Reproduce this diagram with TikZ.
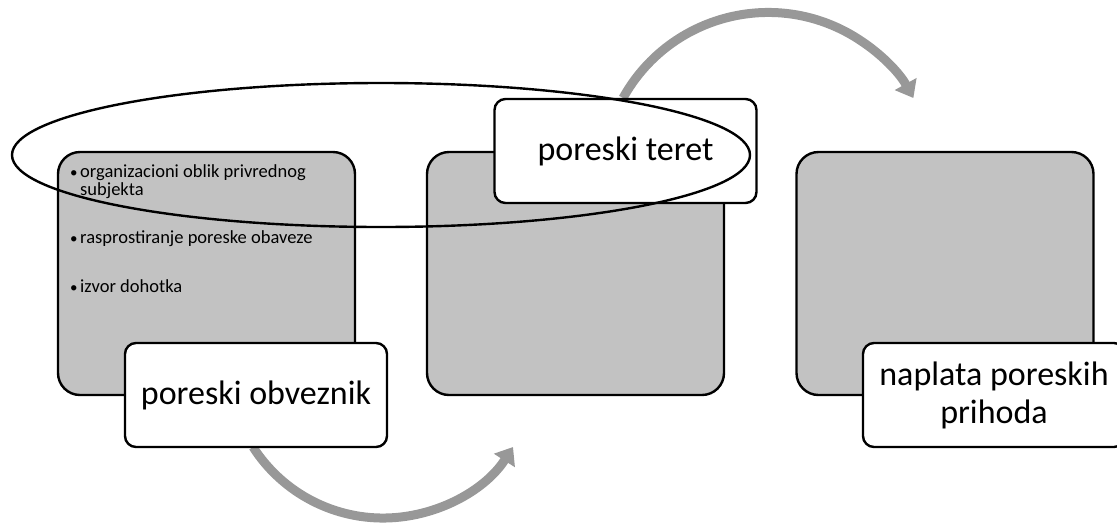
\documentclass[tikz,border=0pt]{standalone}
\usepackage{fontspec}
\setmainfont{Carlito}
\usetikzlibrary{arrows.meta}
\definecolor{boxgrey}{HTML}{C2C2C2}
\definecolor{arrowgrey}{HTML}{989898}
\tikzset{
  greybox/.style={draw=black, line width=2.4pt, fill=boxgrey, rounded corners=22pt,
    minimum width=297pt, minimum height=243pt, inner sep=0pt},
  labelbox/.style={draw=black, line width=2.4pt, fill=white, rounded corners=11pt,
    minimum width=262pt, minimum height=104pt, inner sep=0pt, align=center,
    font=\fontsize{34}{38}\selectfont},
  bullettext/.style={anchor=base west, inner sep=0pt,
    font=\fontsize{18.5}{18}\selectfont},
  bigarrow/.style={draw=arrowgrey, line width=9pt,
    -{Triangle[width=24pt,length=16pt]}},
}
\newcommand{\mybul}{\makebox[10pt][l]{\fontsize{15}{15}\selectfont•}}
\begin{document}
\begin{tikzpicture}[x=1pt,y=-1pt]
\useasboundingbox (0,0) rectangle (1117,523);
% arrows (behind everything)
\coordinate (a1s) at (253,447);
\coordinate (a2s) at (623,98);
\draw[bigarrow] (a1s) arc[start angle=147.3, end angle=32.7, radius=154.5];
\draw[bigarrow] (a2s) arc[start angle=-151, end angle=-29, radius=166];
% grey boxes
\node[greybox] (g1) at (206.5,273.5) {};
\node[greybox] (g2) at (575.5,273.5) {};
\node[greybox] (g3) at (945,273.5) {};
% bullet texts
\node[bullettext] (b1) at (70,177) {\mybul organizacioni oblik privrednog};
\node[bullettext] (b1b) at (80,195) {subjekta};
\node[bullettext] (b2) at (70,243) {\mybul rasprostiranje poreske obaveze};
\node[bullettext] (b3) at (70,292) {\mybul izvor dohotka};
% labels
\node[labelbox] (l1) at (256,395) {poreski obveznik};
\node[labelbox] (l2) at (625.5,151) {poreski teret};
\node[labelbox] (l3) at (994,395) {naplata poreskih\\prihoda};
% ellipse
\draw[line width=2.4pt] (381,155) ellipse [x radius=369, y radius=72];
\end{tikzpicture}
\end{document}
